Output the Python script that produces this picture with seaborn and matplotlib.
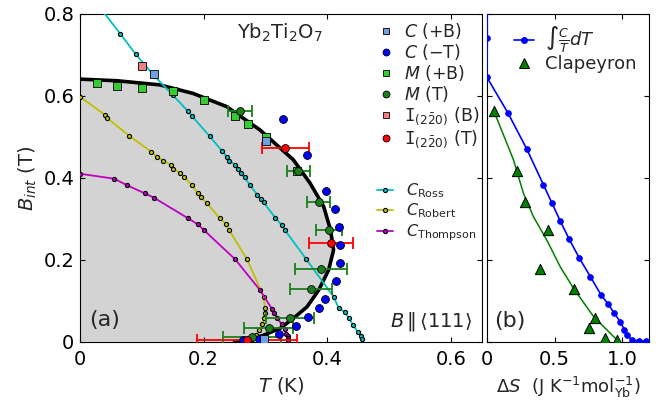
#!/usr/bin/env python

import numpy as np
import pandas as pd
import seaborn as sns
import matplotlib
matplotlib.use("Agg")
import matplotlib.pyplot as plt
from matplotlib.lines import Line2D

OUT_FILE = "out.png"

# ---- panel (a): phase boundary (black line, grey fill) ----
boundary_T = [0.0, 0.06, 0.129, 0.183, 0.237, 0.291, 0.345, 0.372, 0.394,
              0.405, 0.410, 0.402, 0.386, 0.367, 0.345, 0.324, 0.297,
              0.275, 0.25]
boundary_B = [0.641, 0.637, 0.627, 0.606, 0.574, 0.517, 0.444, 0.387, 0.330,
              0.273, 0.224, 0.175, 0.126, 0.085, 0.057, 0.033, 0.016,
              0.006, 0.0]

# C (+B)
cB_T = [0.12, 0.30, 0.298]
cB_B = [0.654, 0.490, 0.006]
# C (-T)
cT_T = [0.328, 0.367, 0.397, 0.412, 0.419, 0.420, 0.421, 0.414, 0.396,
        0.387, 0.368, 0.350, 0.322, 0.290, 0.263]
cT_B = [0.543, 0.456, 0.368, 0.324, 0.281, 0.236, 0.191, 0.148, 0.104,
        0.083, 0.061, 0.039, 0.019, 0.006, 0.004]
# M (+B)
mB_T = [0.028, 0.060, 0.10, 0.151, 0.20, 0.251, 0.271, 0.30, 0.351]
mB_B = [0.632, 0.625, 0.619, 0.612, 0.590, 0.552, 0.531, 0.500, 0.417]
# M (T) with T error
mT_T = [0.259, 0.353, 0.386, 0.403, 0.390, 0.373, 0.339, 0.305, 0.278]
mT_B = [0.562, 0.417, 0.340, 0.272, 0.177, 0.129, 0.059, 0.034, 0.012]
mT_err = [0.019, 0.019, 0.019, 0.021, 0.042, 0.034, 0.039, 0.040, 0.047]
# I(2-20) (B)
iB_T = [0.10]
iB_B = [0.673]
# I(2-20) (T) with T error
iT_T = [0.332, 0.406, 0.27]
iT_B = [0.474, 0.241, 0.003]
iT_err = [0.038, 0.035, 0.081]

# heat capacity anomaly curves
ross_T = [0.03, 0.065, 0.09, 0.12, 0.15, 0.175, 0.181, 0.21, 0.23, 0.237,
          0.241, 0.251, 0.255, 0.26, 0.266, 0.275, 0.287, 0.292, 0.297,
          0.316, 0.326, 0.331, 0.366, 0.410, 0.418, 0.428, 0.435, 0.441,
          0.45, 0.455, 0.456]
ross_B = [0.82, 0.752, 0.702, 0.649, 0.602, 0.562, 0.551, 0.501, 0.465,
          0.452, 0.442, 0.432, 0.422, 0.411, 0.401, 0.382, 0.358, 0.348,
          0.340, 0.302, 0.285, 0.273, 0.201, 0.110, 0.083, 0.072, 0.058,
          0.041, 0.023, 0.013, 0.006]
robert_T = [0.0, 0.04, 0.044, 0.08, 0.115, 0.125, 0.135, 0.147, 0.151,
            0.162, 0.168, 0.181, 0.191, 0.195, 0.205, 0.226, 0.236, 0.241,
            0.27, 0.297, 0.299, 0.299, 0.298, 0.295, 0.29, 0.284, 0.28,
            0.276]
robert_B = [0.598, 0.554, 0.546, 0.502, 0.464, 0.452, 0.442, 0.431, 0.422,
            0.411, 0.402, 0.382, 0.362, 0.353, 0.339, 0.301, 0.287, 0.273,
            0.201, 0.110, 0.082, 0.071, 0.057, 0.043, 0.028, 0.016, 0.009,
            0.004]
thompson_T = [0.0, 0.055, 0.076, 0.105, 0.119, 0.175, 0.19, 0.2, 0.251,
              0.291, 0.31, 0.314, 0.319, 0.326, 0.332, 0.333, 0.336, 0.336,
              0.336]
thompson_B = [0.41, 0.398, 0.382, 0.362, 0.352, 0.301, 0.287, 0.273, 0.201,
              0.126, 0.081, 0.071, 0.057, 0.043, 0.030, 0.020, 0.013, 0.008,
              0.004]

# ---- panel (b): entropy ----
int_S = [0.0, 0.002, 0.0, 0.154, 0.295, 0.418, 0.48, 0.542, 0.609, 0.684,
         0.765, 0.845, 0.897, 0.944, 0.988, 1.018, 1.038, 1.075, 1.124,
         1.174]
int_B = [0.87, 0.741, 0.645, 0.559, 0.470, 0.383, 0.339, 0.295, 0.250,
         0.204, 0.159, 0.114, 0.092, 0.069, 0.048, 0.029, 0.016, 0.004,
         0.002, 0.002]
clap_S = [0.052, 0.22, 0.282, 0.451, 0.389, 0.646, 0.802, 0.753, 0.872,
          0.963]
clap_B = [0.562, 0.417, 0.340, 0.273, 0.177, 0.128, 0.057, 0.034, 0.010,
          0.004]
clapfit_S = [0.052, 0.196, 0.27, 0.344, 0.443, 0.542, 0.641, 0.79, 0.963]
clapfit_B = [0.562, 0.444, 0.362, 0.305, 0.248, 0.183, 0.130, 0.061, 0.004]

xticks_a = [0, 0.2, 0.4, 0.6]
xticklabels_a = ["0", "0.2", "0.4", "0.6"]
yticks = [0, 0.2, 0.4, 0.6, 0.8]
yticklabels = ["0", "0.2", "0.4", "0.6", "0.8"]
xticks_b = [0, 0.5, 1.0]
xticklabels_b = ["0", "0.5", "1.0"]

LIGHTBLUE = "#6f9fe0"
LIMEGREEN = "#33cc33"
DARKGREEN = "#1a801a"
LIGHTRED = "#f08080"
CYAN = (0, 0.75, 0.75)
YELLOW = (0.75, 0.75, 0)
MAGENTA = (0.75, 0, 0.75)


def setup_style():
    sns.set_style("ticks", rc={
        "xtick.direction": "in", "ytick.direction": "in",
        "xtick.top": True, "ytick.right": True,
        "axes.edgecolor": "black", "axes.linewidth": 1.3,
        "xtick.major.size": 6, "ytick.major.size": 6,
        "xtick.major.width": 1.0, "ytick.major.width": 1.0,
        "xtick.color": "black", "ytick.color": "black",
    })
    plt.rcParams["font.family"] = ["DejaVu Sans"]
    plt.rcParams["mathtext.fontset"] = "dejavusans"
    plt.rcParams["font.size"] = 14


def curve(ax, T, B, color):
    df = pd.DataFrame({"T": T, "B": B})
    sns.lineplot(data=df, x="T", y="B", sort=False, estimator=None, ax=ax,
                 color=color, lw=1.3, marker="o", ms=3.0, mfc=color,
                 mec="black", mew=0.8, zorder=3)


def points(ax, T, B, marker, color, size=32, z=5):
    df = pd.DataFrame({"T": T, "B": B})
    sns.scatterplot(data=df, x="T", y="B", ax=ax, marker=marker, color=color,
                    s=size, edgecolor="black", linewidth=0.6, zorder=z)


def panel_a(ax):
    ax.fill(np.append(boundary_T, 0), np.append(boundary_B, 0),
            color="#d3d3d3", lw=0, zorder=0)
    ax.plot(boundary_T, boundary_B, color="black", lw=2.6, zorder=2)

    curve(ax, ross_T, ross_B, CYAN)
    curve(ax, robert_T, robert_B, YELLOW)
    curve(ax, thompson_T, thompson_B, MAGENTA)

    ax.errorbar(mT_T, mT_B, xerr=mT_err, fmt="none", ecolor=DARKGREEN,
                elinewidth=1.3, capsize=4, capthick=1.3, zorder=4)
    ax.errorbar(iT_T, iT_B, xerr=iT_err, fmt="none", ecolor="red",
                elinewidth=1.3, capsize=4, capthick=1.3, zorder=4)

    points(ax, mB_T, mB_B, "s", LIMEGREEN)
    points(ax, cB_T, cB_B, "s", LIGHTBLUE, z=6)
    points(ax, iB_T, iB_B, "s", LIGHTRED)
    points(ax, cT_T, cT_B, "o", "blue")
    points(ax, mT_T, mT_B, "o", DARKGREEN, z=6)
    points(ax, iT_T, iT_B, "o", "red", z=6)

    ax.set_xlim(0, 0.65)
    ax.set_ylim(0, 0.8)
    ax.set_xticks(xticks_a)
    ax.set_xticklabels(xticklabels_a)
    ax.set_yticks(yticks)
    ax.set_yticklabels(yticklabels)
    ax.tick_params(axis="x", pad=6)
    ax.tick_params(axis="y", pad=4)
    ax.set_xlabel(r"$T$ (K)", fontsize=14, labelpad=4)
    ax.set_ylabel(r"$B_{int}$ (T)", fontsize=14, labelpad=3)

    ax.text(0.4975, 0.942, r"Yb$_2$Ti$_2$O$_7$", transform=ax.transAxes,
            ha="center", va="center", fontsize=14)
    ax.text(0.062, 0.066, "(a)", transform=ax.transAxes, ha="center",
            va="center", fontsize=16)
    ax.text(0.975, 0.062, r"$B\,\|\,\langle 111\rangle$",
            transform=ax.transAxes, ha="right", va="center", fontsize=14)

    ms_kw = dict(ls="none", mec="black", mew=0.6, ms=5)
    h1 = [Line2D([], [], marker="s", color=LIGHTBLUE, **ms_kw),
          Line2D([], [], marker="o", color="blue", **ms_kw),
          Line2D([], [], marker="s", color=LIMEGREEN, **ms_kw),
          Line2D([], [], marker="o", color=DARKGREEN, **ms_kw),
          Line2D([], [], marker="s", color=LIGHTRED, **ms_kw),
          Line2D([], [], marker="o", color="red", **ms_kw)]
    l1 = [r"$C$ (+B)", r"$C$ ($-$T)", r"$M$ (+B)", r"$M$ (T)",
          r"$\mathtt{I}_{(2\bar{2}0)}$ (B)", r"$\mathtt{I}_{(2\bar{2}0)}$ (T)"]
    leg1 = ax.legend(h1, l1, loc="upper left", bbox_to_anchor=(0.744, 0.978),
                     frameon=False, fontsize=12.5, handlelength=0.8,
                     handletextpad=0.65, labelspacing=0.06, borderpad=0,
                     borderaxespad=0)
    ax.add_artist(leg1)

    line_kw = dict(marker="o", ms=3.0, mec="black", mew=0.8, lw=1.3)
    h2 = [Line2D([], [], color=CYAN, mfc=CYAN, **line_kw),
          Line2D([], [], color=YELLOW, mfc=YELLOW, **line_kw),
          Line2D([], [], color=MAGENTA, mfc=MAGENTA, **line_kw)]
    l2 = [r"$C_{\rm Ross}$", r"$C_{\rm Robert}$", r"$C_{\rm Thompson}$"]
    ax.legend(h2, l2, loc="upper left", bbox_to_anchor=(0.739, 0.49),
              frameon=False, fontsize=11.5, handlelength=1.0,
              handletextpad=0.8, labelspacing=0.12, borderpad=0,
              borderaxespad=0)


def panel_b(ax):
    df = pd.DataFrame({"S": int_S, "B": int_B})
    sns.lineplot(data=df, x="S", y="B", sort=False, estimator=None, ax=ax,
                 color="blue", lw=1.2, marker="o", ms=4, mec="blue",
                 zorder=3)
    fit = pd.DataFrame({"S": clapfit_S, "B": clapfit_B})
    sns.lineplot(data=fit, x="S", y="B", sort=False, estimator=None, ax=ax,
                 color="green", lw=1.1, zorder=2)
    pts = pd.DataFrame({"S": clap_S, "B": clap_B})
    sns.scatterplot(data=pts, x="S", y="B", ax=ax, marker="^", color="green",
                    s=55, edgecolor="black", linewidth=0.7, zorder=4)

    ax.set_xlim(0, 1.2)
    ax.set_ylim(0, 0.8)
    ax.set_xticks(xticks_b)
    ax.set_xticklabels(xticklabels_b)
    ax.set_yticks(yticks)
    ax.set_yticklabels([])
    ax.tick_params(axis="x", pad=6)
    ax.set_ylabel("")
    ax.set_xlabel(r"$\Delta S$  (J K$^{-1}$mol$^{-1}_{\rm Yb}$)",
                  fontsize=13, labelpad=4)
    ax.text(0.142, 0.062, "(b)", transform=ax.transAxes, ha="center",
            va="center", fontsize=16)

    h3 = [Line2D([], [], color="blue", marker="o", ms=4, lw=1.2),
          Line2D([], [], color="green", marker="^", ms=7, ls="none",
                 mec="black", mew=0.7)]
    l3 = [r"$\int\frac{C}{T}dT$", "Clapeyron"]
    ax.legend(h3, l3, loc="upper left", bbox_to_anchor=(0.08, 1.01),
              frameon=False, fontsize=13, handlelength=1.1,
              handletextpad=0.6, labelspacing=0.0, borderpad=0.3)


def main():
    setup_style()
    fig = plt.figure(figsize=(6.6, 4.03), dpi=100)
    ax1 = fig.add_axes([0.1212, 0.1521, 0.6091, 0.8132])
    ax2 = fig.add_axes([0.7379, 0.1521, 0.2455, 0.8132])
    panel_a(ax1)
    panel_b(ax2)
    fig.savefig(OUT_FILE, dpi=100)


if __name__ == "__main__":
    main()
